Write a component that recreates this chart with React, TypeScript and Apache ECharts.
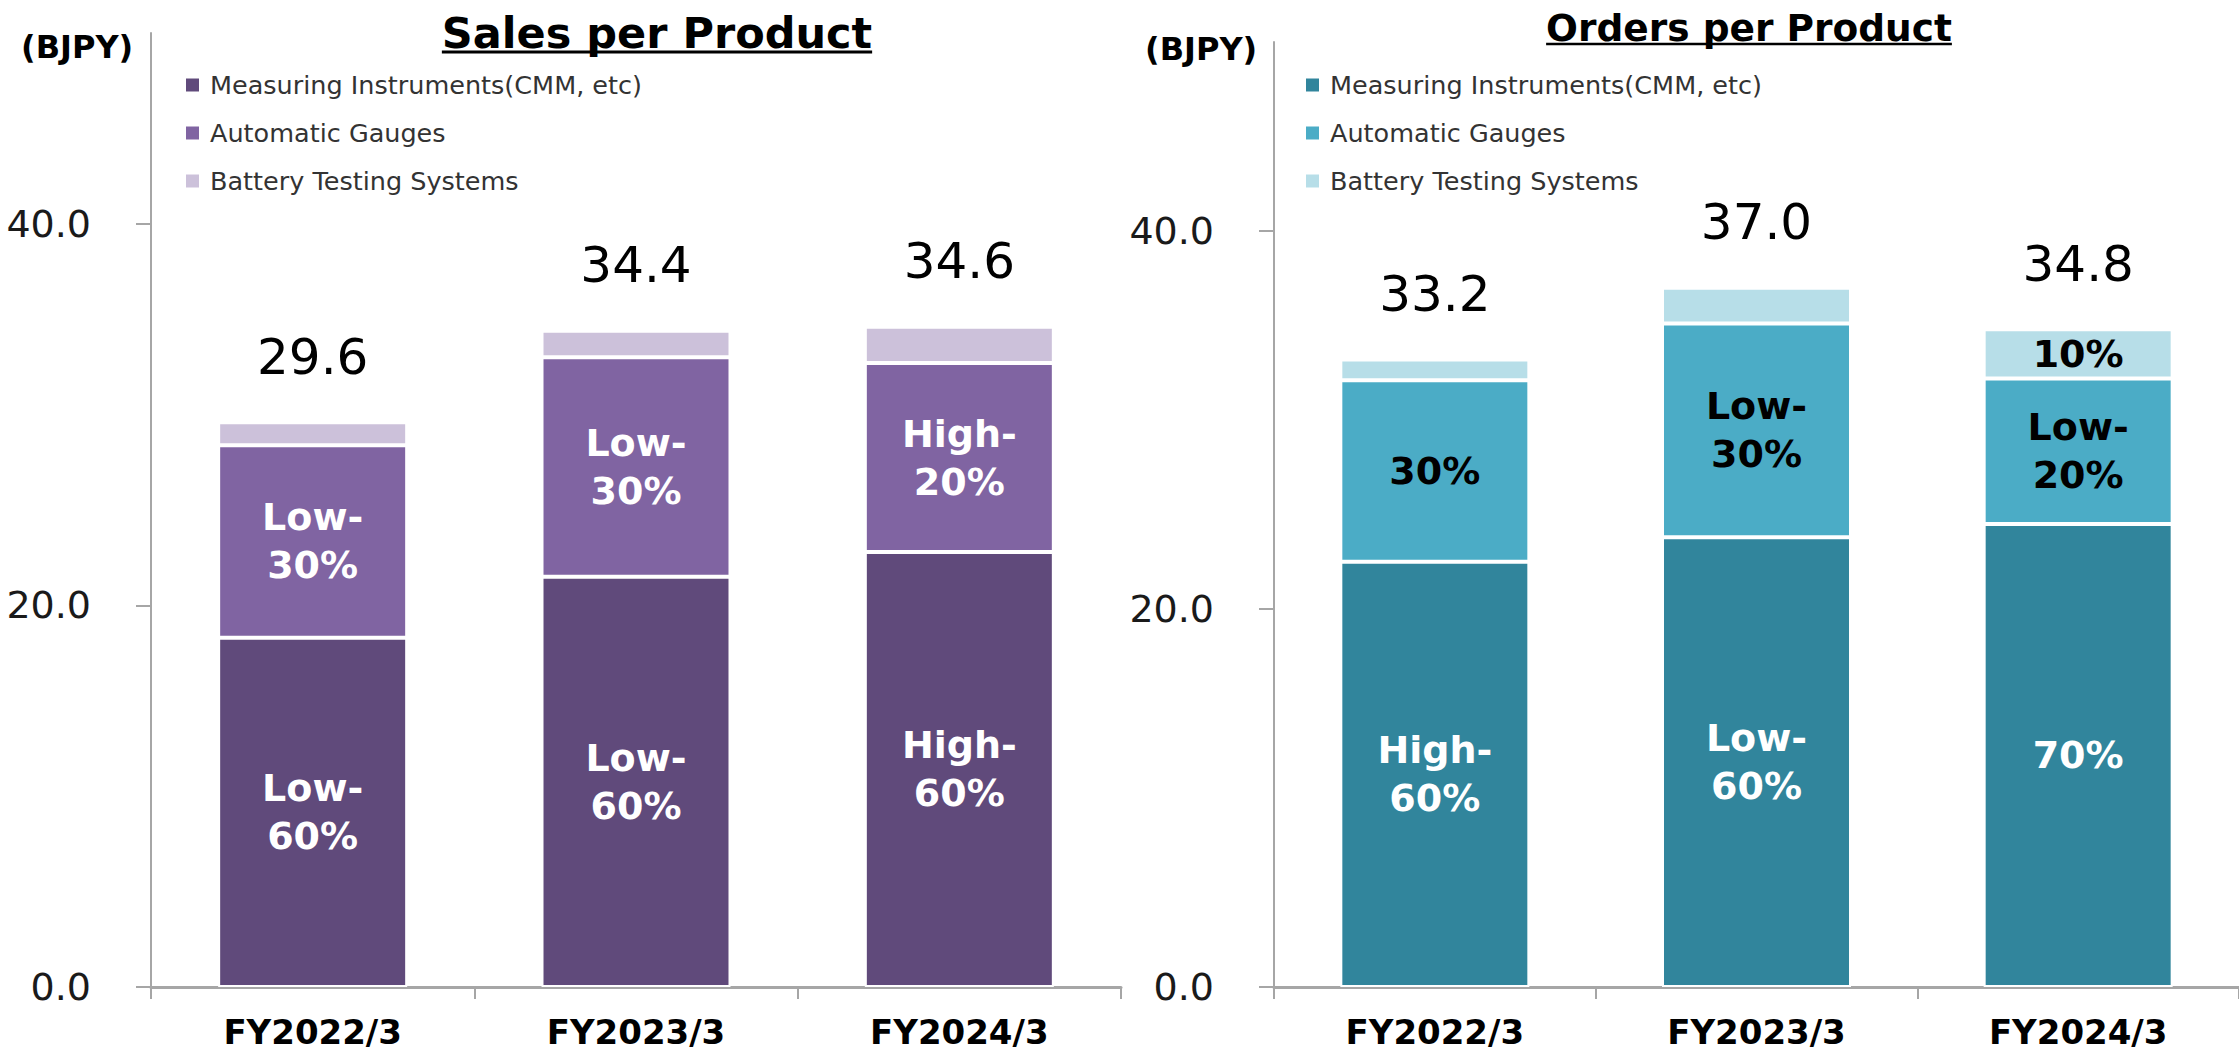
import React, { useEffect, useRef } from 'react';
import * as echarts from 'echarts';

const categories = ['FY2022/3', 'FY2023/3', 'FY2024/3'];
const seriesNames = ['Measuring Instruments(CMM, etc)', 'Automatic Gauges', 'Battery Testing Systems'];

const salesMeasuring = [18.3, 21.5, 22.8];
const salesAutomatic = [10.1, 11.5, 9.9];
const salesBattery = [1.2, 1.4, 1.9];
const salesTotals = [29.6, 34.4, 34.6];

const ordersMeasuring = [22.5, 23.8, 24.5];
const ordersAutomatic = [9.6, 11.3, 7.7];
const ordersBattery = [1.1, 1.9, 2.6];
const ordersTotals = [33.2, 37.0, 34.8];

const salesMeasuringLabels = ['Low-\n60%', 'Low-\n60%', 'High-\n60%'];
const salesAutomaticLabels = ['Low-\n30%', 'Low-\n30%', 'High-\n20%'];
const salesBatteryLabels = ['', '', ''];
const ordersMeasuringLabels = ['High-\n60%', 'Low-\n60%', '70%'];
const ordersAutomaticLabels = ['30%', 'Low-\n30%', 'Low-\n20%'];
const ordersBatteryLabels = ['', '', '10%'];

const yTicks = [0, 20, 40];

const salesColors = ['#604A7B', '#8064A2', '#CCC1DA'];
const ordersColors = ['#31859C', '#4BACC6', '#B7DEE8'];
const salesLabelColors = ['#FFFFFF', '#FFFFFF', '#000000'];
const ordersLabelColors = ['#FFFFFF', '#000000', '#000000'];

const FONT = '"DejaVu Sans", Verdana, sans-serif';

function measure(text: string, font: string): number {
  const c = document.createElement('canvas').getContext('2d');
  if (!c) return text.length * 20;
  c.font = font;
  return c.measureText(text).width;
}

function buildAxes(gridIndex: number) {
  const xAxis = {
    type: 'category',
    gridIndex,
    data: categories,
    axisLine: { show: true, lineStyle: { color: '#A6A6A6', width: 3 } },
    axisTick: { show: true, length: 12, lineStyle: { color: '#A6A6A6', width: 2 } },
    axisLabel: {
      margin: 28,
      fontSize: 34,
      lineHeight: 34,
      fontWeight: 'bold',
      color: '#000000',
      fontFamily: FONT,
    },
    splitLine: { show: false },
  };
  const yAxis = {
    type: 'value',
    gridIndex,
    min: 0,
    max: 50,
    interval: 20,
    axisLine: { show: true, lineStyle: { color: '#A6A6A6', width: 2 } },
    axisTick: {
      show: true,
      inside: false,
      length: 15,
      customValues: yTicks,
      lineStyle: { color: '#A6A6A6', width: 2 },
    },
    axisLabel: {
      customValues: yTicks,
      margin: 60,
      fontSize: 38,
      color: '#1A1A1A',
      fontFamily: FONT,
      formatter: (v: number) => Number(v).toFixed(1),
    },
    splitLine: { show: false },
  };
  return { xAxis, yAxis };
}

function buildBars(
  gridIndex: number,
  stack: string,
  values: number[][],
  labels: string[][],
  colors: string[],
  labelColors: string[]
) {
  return values.map((vals, i) => ({
    name: seriesNames[i],
    type: 'bar',
    stack,
    xAxisIndex: gridIndex,
    yAxisIndex: gridIndex,
    barWidth: 189,
    data: vals,
    itemStyle: { color: colors[i], borderColor: '#FFFFFF', borderWidth: 2 },
    label: {
      show: true,
      position: 'inside',
      formatter: (p: any) => labels[i][p.dataIndex],
      fontSize: 38,
      lineHeight: 48,
      fontWeight: 'bold',
      color: labelColors[i],
      fontFamily: FONT,
    },
    emphasis: { disabled: true },
  }));
}

function buildTotals(gridIndex: number, name: string, totals: number[]) {
  return {
    name,
    type: 'scatter',
    xAxisIndex: gridIndex,
    yAxisIndex: gridIndex,
    data: totals,
    symbolSize: 1,
    itemStyle: { color: '#FFFFFF', opacity: 0 },
    z: 10,
    label: {
      show: true,
      position: 'top',
      distance: 40,
      formatter: (p: any) => Number(p.value).toFixed(1),
      fontSize: 50,
      lineHeight: 50,
      color: '#000000',
      opacity: 1,
      textBorderWidth: 0,
      fontFamily: FONT,
    },
    emphasis: { disabled: true },
  };
}

function buildLegend(left: number, colors: string[]) {
  return {
    left,
    top: 70,
    orient: 'vertical',
    icon: 'rect',
    itemWidth: 13,
    itemHeight: 13,
    itemGap: 18,
    padding: 0,
    selectedMode: false,
    data: seriesNames.map((n, i) => ({
      name: n,
      itemStyle: { color: colors[i], borderWidth: 0 },
    })),
    textStyle: {
      fontSize: 25.5,
      lineHeight: 30,
      color: '#333333',
      fontFamily: FONT,
      padding: [0, 0, 0, 6],
    },
  };
}

export default function App() {
  const ref = useRef<HTMLDivElement>(null);

  useEffect(() => {
    document.body.style.margin = '0';
    if (!ref.current) return;
    const chart = echarts.init(ref.current, undefined, { renderer: 'svg' });

    const leftAxes = buildAxes(0);
    const rightAxes = buildAxes(1);

    const leftTitle = 'Sales per Product';
    const rightTitle = 'Orders per Product';
    const leftTitleFont = `bold 43px ${FONT}`;
    const rightTitleFont = `bold 37.5px ${FONT}`;
    const lw = measure(leftTitle, leftTitleFont);
    const rw = measure(rightTitle, rightTitleFont);
    const lcx = 657;
    const rcx = 1749;

    const option: any = {
      animation: false,
      backgroundColor: '#FFFFFF',
      textStyle: { fontFamily: FONT },
      grid: [
        { left: 151, top: 33, width: 970, height: 954 },
        { left: 1274, top: 42, width: 975, height: 945 },
      ],
      xAxis: [leftAxes.xAxis, rightAxes.xAxis],
      yAxis: [leftAxes.yAxis, rightAxes.yAxis],
      legend: [buildLegend(186, salesColors), buildLegend(1306, ordersColors)],
      series: [
        ...buildBars(
          0,
          'sales',
          [salesMeasuring, salesAutomatic, salesBattery],
          [salesMeasuringLabels, salesAutomaticLabels, salesBatteryLabels],
          salesColors,
          salesLabelColors
        ),
        buildTotals(0, 'Sales total', salesTotals),
        ...buildBars(
          1,
          'orders',
          [ordersMeasuring, ordersAutomatic, ordersBattery],
          [ordersMeasuringLabels, ordersAutomaticLabels, ordersBatteryLabels],
          ordersColors,
          ordersLabelColors
        ),
        buildTotals(1, 'Orders total', ordersTotals),
      ],
      graphic: [
        {
          type: 'text',
          x: 21,
          y: 47,
          style: {
            text: '(BJPY)',
            font: `bold 32px ${FONT}`,
            fill: '#000000',
            align: 'left',
            verticalAlign: 'middle',
            textAlign: 'left',
            textVerticalAlign: 'middle',
          },
        },
        {
          type: 'text',
          x: 1145,
          y: 49,
          style: {
            text: '(BJPY)',
            font: `bold 32px ${FONT}`,
            fill: '#000000',
            align: 'left',
            verticalAlign: 'middle',
            textAlign: 'left',
            textVerticalAlign: 'middle',
          },
        },
        {
          type: 'text',
          x: lcx,
          y: 33,
          style: {
            text: leftTitle,
            font: leftTitleFont,
            fill: '#000000',
            align: 'center',
            verticalAlign: 'middle',
            textAlign: 'center',
            textVerticalAlign: 'middle',
          },
        },
        {
          type: 'line',
          shape: { x1: lcx - lw / 2, y1: 52, x2: lcx + lw / 2, y2: 52 },
          style: { stroke: '#000000', lineWidth: 3 },
        },
        {
          type: 'text',
          x: rcx,
          y: 28,
          style: {
            text: rightTitle,
            font: rightTitleFont,
            fill: '#000000',
            align: 'center',
            verticalAlign: 'middle',
            textAlign: 'center',
            textVerticalAlign: 'middle',
          },
        },
        {
          type: 'line',
          shape: { x1: rcx - rw / 2, y1: 44, x2: rcx + rw / 2, y2: 44 },
          style: { stroke: '#000000', lineWidth: 2.5 },
        },
      ],
    };

    chart.setOption(option);
    return () => {
      chart.dispose();
    };
  }, []);

  return <div ref={ref} style={{ width: 2239, height: 1056 }} />;
}
